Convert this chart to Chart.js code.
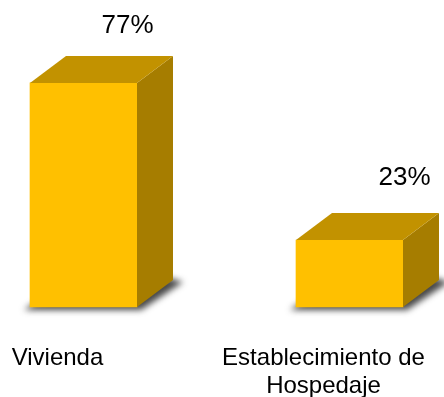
<!DOCTYPE html>
<html>
<head>
<meta charset="utf-8">
<script src="https://cdn.jsdelivr.net/npm/chart.js@4/dist/chart.umd.min.js"></script>
<style>
  html, body { margin: 0; padding: 0; background: #fff; }
  #wrap { width: 444px; height: 397px; }
</style>
</head>
<body>
<div id="wrap"><canvas id="chart" width="444" height="397"></canvas></div>
<script>
const categories = ['Vivienda', ['Establecimiento de', 'Hospedaje']];
const shares = [77, 23];

// 3D box look
const FRONT = '#FFC000';
const TOP = '#C29200';
const SIDE = '#A67D00';
const DX = 36, DY = -27;
const FONT = '"Liberation Sans", Arial, sans-serif';
// where each percentage sits relative to the bar's front top
const LABEL_SHIFT = [[44, -50], [55, -55]];

const box3d = {
    id: 'box3d',
    beforeDatasetsDraw(chart) {
        const ctx = chart.ctx;
        chart.getDatasetMeta(0).data.forEach(bar => {
            const x0 = bar.x - bar.width / 2, x1 = bar.x + bar.width / 2, b = bar.base;
            ctx.save();
            ctx.filter = 'blur(3px)';
            ctx.fillStyle = 'rgba(40,40,40,0.85)';
            ctx.beginPath();
            ctx.moveTo(x0 - 6, b + 3);
            ctx.lineTo(x1 + 4, b + 3);
            ctx.lineTo(x1 + DX + 10, b + DY + 2);
            ctx.lineTo(x1 + DX - 4, b + DY - 2);
            ctx.lineTo(x0 + 4, b - 4);
            ctx.closePath();
            ctx.fill();
            ctx.restore();
        });
    },
    afterDatasetsDraw(chart) {
        const ctx = chart.ctx;
        const meta = chart.getDatasetMeta(0);
        meta.data.forEach((bar, i) => {
            const x0 = bar.x - bar.width / 2, x1 = bar.x + bar.width / 2;
            const t = bar.y, b = bar.base;
            ctx.save();
            // side
            ctx.fillStyle = SIDE;
            ctx.beginPath();
            ctx.moveTo(x1, t);
            ctx.lineTo(x1 + DX, t + DY);
            ctx.lineTo(x1 + DX, b + DY);
            ctx.lineTo(x1, b);
            ctx.closePath();
            ctx.fill();
            // top
            ctx.fillStyle = TOP;
            ctx.beginPath();
            ctx.moveTo(x0, t);
            ctx.lineTo(x0 + DX, t + DY);
            ctx.lineTo(x1 + DX, t + DY);
            ctx.lineTo(x1, t);
            ctx.closePath();
            ctx.fill();
            // value label
            ctx.fillStyle = '#000';
            ctx.font = '26px ' + FONT;
            ctx.textAlign = 'center';
            ctx.textBaseline = 'alphabetic';
            ctx.fillText(shares[i] + '%', bar.x + LABEL_SHIFT[i][0], t + LABEL_SHIFT[i][1]);
            ctx.restore();
        });
    }
};

new Chart(document.getElementById('chart').getContext('2d'), {
    type: 'bar',
    data: {
        labels: categories,
        datasets: [{
            data: shares,
            backgroundColor: FRONT,
            borderWidth: 0,
            barThickness: 107,
            clip: false
        }]
    },
    options: {
        responsive: false,
        animation: false,
        layout: { padding: { top: 16, left: 83.5, right: 94.5, bottom: 0 } },
        plugins: { legend: { display: false }, tooltip: { enabled: false } },
        scales: {
            x: {
                offset: false,
                grid: { display: false, drawTicks: false },
                border: { display: false },
                ticks: {
                    color: '#000',
                    padding: 36.5,
                    labelOffset: -26,
                    maxRotation: 0,
                    autoSkip: false,
                    font: { family: FONT, size: 24, lineHeight: 1.2 }
                },
                afterFit(scale) {
                    scale.paddingLeft = 0;
                    scale.paddingRight = 0;
                    scale.height = 90;
                }
            },
            y: { display: false, min: 0, max: 100 }
        }
    },
    plugins: [box3d]
});
</script>
</body>
</html>
